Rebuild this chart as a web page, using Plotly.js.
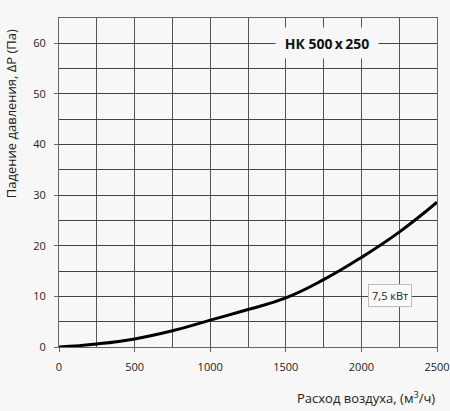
<!DOCTYPE html>
<html><head><meta charset="utf-8">
<script src="https://cdn.plot.ly/plotly-3.0.1.min.js"></script>
<style>html,body{margin:0;padding:0;background:#f7f7f7;}#chart{width:450px;height:411px;}</style>
</head><body><div id="chart"></div>
<script>
var flowRate = [0, 250, 500, 750, 1000, 1250, 1500, 1750, 2000, 2250, 2500];
var pressureDrop = [0, 0.6, 1.6, 3.2, 5.3, 7.4, 9.7, 13.3, 17.7, 22.7, 28.6];
var chartTitle = "НК 500\u2009x\u2009250";
var powerLabel = "7,5 кВт";
var xTitle = "Расход воздуха, (м<sup>3</sup>/ч)";
var yTitle = "Падение давления, ΔP (Па)";

var font = "Open Sans, Noto Sans, sans-serif";
var trace = {x: flowRate, y: pressureDrop, mode: "lines", line: {color: "#000", width: 3, shape: "spline", smoothing: 1.3}, hoverinfo: "none"};
var layout = {
  width: 450, height: 411,
  margin: {l: 59, r: 13, t: 18, b: 64},
  paper_bgcolor: "#f7f7f7", plot_bgcolor: "#f7f7f7",
  showlegend: false,
  font: {family: font, size: 11, color: "#222"},
  xaxis: {range: [0, 2500], dtick: 500, tick0: 0, showgrid: true, gridcolor: "#555", gridwidth: 1,
    minor: {dtick: 250, showgrid: true, gridcolor: "#555", gridwidth: 1},
    zeroline: false, showline: true, linecolor: "#666", linewidth: 1, mirror: true,
    ticks: "outside", ticklen: 4, tickcolor: "#666", ticklabelstandoff: 6, fixedrange: true},
  yaxis: {range: [0, 65], dtick: 10, tick0: 0, showgrid: true, gridcolor: "#444", gridwidth: 1,
    minor: {dtick: 5, showgrid: true, gridcolor: "#444", gridwidth: 1},
    zeroline: false, showline: true, linecolor: "#666", linewidth: 1, mirror: true,
    ticks: "outside", ticklen: 4, tickcolor: "#666", ticklabelstandoff: 6, fixedrange: true},
  annotations: [
    {xref: "paper", yref: "paper", x: 0.71, xanchor: "center", y: 0.924, yanchor: "middle", text: "<b>" + chartTitle + "</b>", showarrow: false,
     font: {family: font, size: 14, color: "#111"}, bgcolor: "#f7f7f7", width: 102, height: 30, borderpad: 0},
    {xref: "x", yref: "y", x: 2190, y: 10.1, text: powerLabel, showarrow: false,
     font: {family: font, size: 11, color: "#222"}, bgcolor: "#fafafa", bordercolor: "#bbb", borderwidth: 1, borderpad: 3},
    {xref: "paper", yref: "paper", x: 1, xanchor: "right", y: -0.155, yanchor: "middle", text: xTitle, showarrow: false,
     font: {family: font, size: 13, color: "#222"}},
    {xref: "paper", yref: "paper", x: -0.125, xanchor: "center", y: 0.71, yanchor: "middle", text: yTitle, showarrow: false, textangle: -90,
     font: {family: font, size: 13, color: "#222"}}
  ]
};
Plotly.newPlot("chart", [trace], layout, {staticPlot: true, displayModeBar: false});
</script></body></html>
